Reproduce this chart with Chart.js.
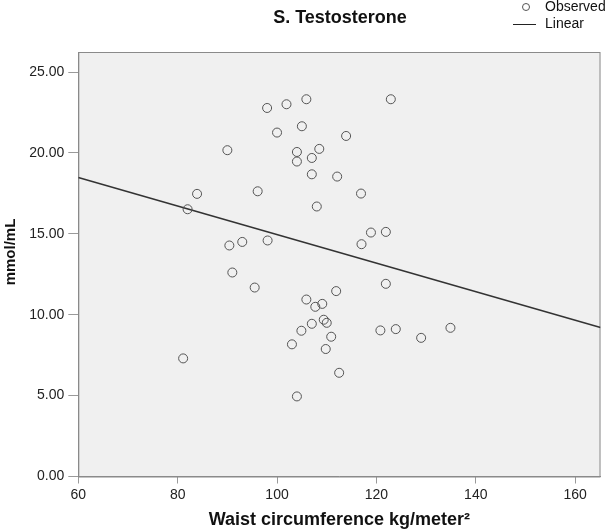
<!DOCTYPE html>
<html>
<head>
<meta charset="utf-8">
<script src="https://cdn.jsdelivr.net/npm/chart.js@4"></script>
<style>
  html, body { margin: 0; padding: 0; background: #fff; }
  #wrap { width: 606px; height: 531px; position: relative; }
</style>
</head>
<body>
<div id="wrap"><canvas id="chart"></canvas></div>
<script>
// observed points (waist circumference vs S. testosterone)
const obsX = [98.0, 101.9, 105.9, 105.0, 100.0, 113.9, 90.0, 104.0, 108.5, 107.0,
              104.0, 107.0, 112.1, 83.9, 96.1, 82.0, 108.0, 90.4, 93.0, 98.1,
              91.0, 122.9, 116.9, 118.9, 121.9, 117.0, 95.5, 111.9, 105.9, 109.1,
              107.7, 109.4, 110.0, 107.0, 104.9, 110.9, 103.0, 109.8, 81.1, 112.5,
              104.0, 121.9, 120.8, 123.9, 129.0, 134.9];
const obsY = [22.78, 23.01, 23.32, 21.65, 21.26, 21.05, 20.17, 20.06, 20.25, 19.69,
              19.47, 18.68, 18.54, 17.47, 17.63, 16.52, 16.69, 14.28, 14.50, 14.59,
              12.61, 23.32, 17.49, 15.08, 15.12, 14.36, 11.68, 11.46, 10.94, 10.67,
              10.49, 9.69, 9.50, 9.44, 9.01, 8.64, 8.17, 7.88, 7.30, 6.41,
              4.95, 11.91, 9.03, 9.11, 8.57, 9.19];
// linear fit line, read at the plot edges
const fitX = [60, 165.1];
const fitY = [18.48, 9.21];

const xTicks = [60, 80, 100, 120, 140, 160];
const yTicks = [0, 5, 10, 15, 20, 25];

const FONT = "'Liberation Sans', Arial, sans-serif";

const frame = {
    id: 'frame',
    beforeDraw(chart) {
        const { ctx, chartArea: a } = chart;
        ctx.save();
        ctx.fillStyle = '#fff';
        ctx.fillRect(0, 0, chart.width, chart.height);
        ctx.fillStyle = '#f0f0f0';
        ctx.fillRect(a.left, a.top, a.right - a.left, a.bottom - a.top);
        ctx.restore();
    },
    beforeDatasetsDraw(chart) {
        const { ctx, chartArea: a } = chart;
        ctx.save();
        ctx.strokeStyle = '#8a8a8a';
        ctx.lineWidth = 1;
        ctx.strokeRect(a.left + 0.5, a.top + 0.5, a.right - a.left - 1, a.bottom - a.top);
        ctx.restore();
    },
    afterDraw(chart) {
        const { ctx, chartArea: a } = chart;
        ctx.save();
        ctx.fillStyle = '#111';
        ctx.textBaseline = 'middle';
        // title
        ctx.font = 'bold 18px ' + FONT;
        ctx.textAlign = 'center';
        ctx.fillText('S. Testosterone', 340, 18.5);
        // y axis title
        ctx.save();
        ctx.translate(11, 252);
        ctx.rotate(-Math.PI / 2);
        ctx.font = 'bold 15px ' + FONT;
        ctx.fillText('mmol/mL', 0, 0);
        ctx.restore();
        // legend
        ctx.font = '14px ' + FONT;
        ctx.textAlign = 'left';
        ctx.strokeStyle = '#555';
        ctx.lineWidth = 1;
        ctx.beginPath();
        ctx.arc(526, 7, 3.5, 0, Math.PI * 2);
        ctx.stroke();
        ctx.fillText('Observed', 545, 7);
        ctx.strokeStyle = '#222';
        ctx.beginPath();
        ctx.moveTo(513, 24.5);
        ctx.lineTo(536, 24.5);
        ctx.stroke();
        ctx.fillText('Linear', 545, 24);
        ctx.restore();
    }
};

new Chart(document.getElementById('chart'), {
    type: 'scatter',
    data: {
        datasets: [{
            label: 'Observed',
            data: obsX.map((x, i) => ({ x: x, y: obsY[i] })),
            pointRadius: 4.5,
            pointHoverRadius: 4.5,
            pointBorderWidth: 1,
            pointBorderColor: '#555',
            pointBackgroundColor: 'rgba(0,0,0,0)',
            showLine: false
        }, {
            label: 'Linear',
            data: fitX.map((x, i) => ({ x: x, y: fitY[i] })),
            showLine: true,
            borderColor: '#333',
            borderWidth: 1.5,
            pointRadius: 0,
            fill: false
        }]
    },
    plugins: [frame],
    options: {
        responsive: true,
        maintainAspectRatio: false,
        animation: false,
        layout: { padding: { top: 52, left: 4, right: 5, bottom: 0 } },
        plugins: {
            legend: { display: false },
            title: { display: false },
            tooltip: { enabled: false }
        },
        scales: {
            x: {
                type: 'linear',
                min: 60,
                max: 165.1,
                afterBuildTicks: s => { s.ticks = xTicks.map(v => ({ value: v })); },
                afterFit: s => { s.height = 54.5; },
                ticks: {
                    color: '#222',
                    font: { family: FONT, size: 14 },
                    padding: 3,
                    maxRotation: 0
                },
                grid: { drawOnChartArea: false, tickLength: 7, color: '#9a9a9a' },
                border: { color: '#8a8a8a' },
                title: {
                    display: true,
                    text: 'Waist circumference kg/meter²',
                    color: '#111',
                    font: { family: FONT, size: 18, weight: 'bold' },
                    padding: { top: 2, bottom: 0 }
                }
            },
            y: {
                type: 'linear',
                min: 0,
                max: 26.24,
                afterBuildTicks: s => { s.ticks = yTicks.map(v => ({ value: v })); },
                afterFit: s => { s.width = 74.3; },
                ticks: {
                    color: '#222',
                    font: { family: FONT, size: 14 },
                    padding: 4,
                    callback: v => Number(v).toFixed(2)
                },
                grid: { drawOnChartArea: false, tickLength: 10, color: '#9a9a9a' },
                border: { color: '#8a8a8a' },
                title: { display: false }
            }
        }
    }
});
</script>
</body>
</html>
